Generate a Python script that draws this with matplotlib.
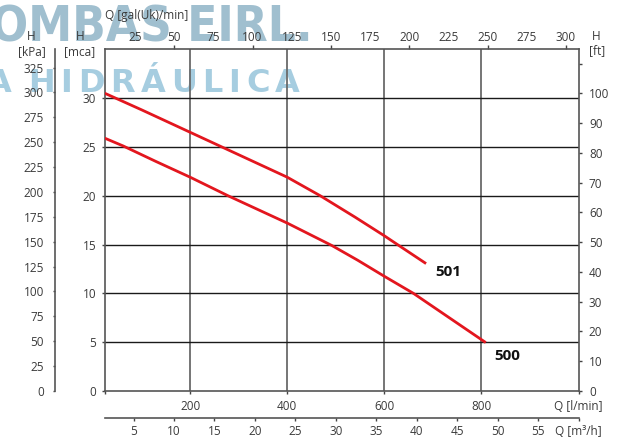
import matplotlib
matplotlib.use("Agg")
import matplotlib.pyplot as plt
from matplotlib import font_manager

# pump curves, Q in l/min, H in mca
q_501 = [24, 100, 200, 300, 400, 468, 540, 600, 618, 686]
h_501 = [30.5, 28.8, 26.5, 24.2, 21.9, 20.0, 17.8, 15.9, 15.3, 13.05]
q_500 = [24, 62, 130, 200, 278, 400, 440, 492, 545, 600, 660, 809]
h_500 = [25.9, 25.1, 23.5, 21.9, 20.0, 17.2, 16.2, 14.9, 13.4, 11.75, 10.0, 4.96]

lmin_ticks = [24, 200, 400, 600, 800, 1000]
lmin_labels = ["", "200", "400", "600", "800", "Q [l/min]"]
m3h_ticks = [5, 10, 15, 20, 25, 30, 35, 40, 45, 50, 55, 60]
m3h_labels = [str(v) for v in m3h_ticks[:-1]] + ["Q [m³/h]"]
gal_major = [50, 100, 150, 200, 250, 300]
gal_minor = [25, 75, 125, 175, 225, 275]
mca_ticks = [0, 5, 10, 15, 20, 25, 30]
kpa_ticks = list(range(0, 326, 25))
ft_ticks = list(range(0, 111, 10))
ft_labels = [str(v) for v in ft_ticks[:-1]] + [""]

W, H = 624, 438
names = {f.name for f in font_manager.fontManager.ttflist}
FONT = "Open Sans" if "Open Sans" in names else "DejaVu Sans"
TXT = "#3a3a3a"
RED = "#e3161e"
TICK = "#444444"

plt.rcParams["font.family"] = [FONT, "DejaVu Sans"]
plt.rcParams["font.size"] = 8.5


def _weight(f):
    w = f.weight
    return w if isinstance(w, int) else font_manager.weight_dict.get(w, 400)


def narrow_bold_font():
    for f in font_manager.fontManager.ttflist:
        narrow = (str(f.stretch) in ("condensed", "semi-condensed", "extra-condensed")
                  or "Narrow" in f.name or "Condensed" in f.name)
        if narrow and _weight(f) >= 700 and f.style == "normal":
            return font_manager.FontProperties(fname=f.fname)
    return font_manager.FontProperties(family="DejaVu Sans", weight="bold")


def px(x, y):
    return x / W, 1 - y / H


fig = plt.figure(figsize=(W / 100, H / 100), dpi=100)
fig.patch.set_facecolor("white")
l, t, r, b = 104.7, 49.3, 578.5, 391.0
ax = fig.add_axes([l / W, 1 - b / H, (r - l) / W, (b - t) / H])
ax.patch.set_alpha(0)

# watermark, sized to the span it covers in the reference
renderer = fig.canvas.get_renderer()
wm_font = narrow_bold_font()
wide_font = font_manager.FontProperties(family="DejaVu Sans", weight="bold")


def text_width(s, size, fp):
    probe = fig.text(0, 0, s, fontproperties=fp, fontsize=size)
    w = probe.get_window_extent(renderer).width
    probe.remove()
    return w


def fitted_size(visible, width_px, fp):
    size = 30.0
    for _ in range(3):
        size *= width_px / text_width(visible, size, fp)
    return size


s1 = fitted_size("OMBAS EIRL.", 322, wm_font)
fig.text(*px(313, 42), "BOMBAS EIRL.", fontproperties=wm_font, fontsize=s1,
         color="#a0bfcf", ha="right", va="baseline", zorder=-1)

# second line: spaced capitals from x=28 to x=300
word = "HIDRÁULICA"
s2 = 23.0
widths = [text_width(ch, s2, wide_font) for ch in word]
gap = (272 - sum(widths)) / (len(word) - 1)
x0 = 28.0
wm2 = dict(fontproperties=wide_font, fontsize=s2, color="#a6cde0",
           ha="left", va="baseline", zorder=-1)
fig.text(*px(x0 - 16 - text_width("A", s2, wide_font), 92), "A", **wm2)
for ch, w in zip(word, widths):
    fig.text(*px(x0, 92), ch, **wm2)
    x0 += w + gap

ax.set_xlim(24, 1000)
ax.set_ylim(0, 35)

for x in [200, 400, 600, 800]:
    ax.axvline(x, color="#6a6a6a", lw=1.3, zorder=1)
for y in mca_ticks[1:]:
    ax.axhline(y, color="#1a1a1a", lw=1.0, zorder=1.5)

ax.plot(q_501, h_501, color=RED, lw=2.0, zorder=3, solid_capstyle="butt")
ax.plot(q_500, h_500, color=RED, lw=2.0, zorder=3, solid_capstyle="butt")
ax.text(731, 12.2, "501", fontsize=11, fontweight="bold", color="#111111",
        ha="center", va="center")
ax.text(853, 3.6, "500", fontsize=11, fontweight="bold", color="#111111",
        ha="center", va="center")

for s in ax.spines.values():
    s.set_color("#555555")
    s.set_linewidth(1.2)

ax.set_xticks(lmin_ticks)
ax.set_xticklabels(lmin_labels)
ax.set_yticks(mca_ticks)
ax.tick_params(axis="x", direction="out", length=1.8, width=1, color=TICK,
               labelcolor=TXT, pad=4.7)
ax.tick_params(axis="y", direction="out", length=2.2, width=1, color=TICK,
               labelcolor=TXT, pad=3.8, right=False)

# kPa
kpa = ax.secondary_yaxis(-0.105, functions=(lambda m: m * 9.81, lambda k: k / 9.81))
kpa.set_yticks(kpa_ticks)
kpa.spines["left"].set_color("#555555")
kpa.spines["left"].set_linewidth(1.2)
kpa.tick_params(direction="out", length=1.8, width=1, color=TICK,
                labelcolor=TXT, pad=6.2)

# ft
ft = ax.secondary_yaxis("right", functions=(lambda m: m / 0.3048, lambda f: f * 0.3048))
ft.set_yticks(ft_ticks)
ft.set_yticklabels(ft_labels)
ft.spines["right"].set_visible(False)
ft.tick_params(direction="out", length=2.5, width=1, color=TICK,
               labelcolor=TXT, pad=5)

# gal(Uk)/min
gal = ax.secondary_xaxis("top", functions=(lambda q: (q - 5.8) / 3.227,
                                           lambda g: g * 3.227 + 5.8))
gal.set_xticks(gal_major)
gal.set_xticks(gal_minor, minor=True)
gal.set_xticklabels([str(v) for v in gal_major])
gal.set_xticklabels([str(v) for v in gal_minor], minor=True)
gal.spines["top"].set_visible(False)
gal.tick_params(which="major", direction="out", length=2.7, width=1,
                color=TICK, labelcolor=TXT, pad=0.9)
gal.tick_params(which="minor", direction="out", length=0, labelcolor=TXT,
                pad=3.6, labelsize=8.5)

# m3/h
m3h = ax.secondary_xaxis(-0.08, functions=(lambda q: q * 0.06, lambda m: m / 0.06))
m3h.set_xticks(m3h_ticks)
m3h.set_xticklabels(m3h_labels)
m3h.spines["bottom"].set_color("#555555")
m3h.spines["bottom"].set_linewidth(1.2)
m3h.tick_params(direction="out", length=2.2, width=1, color=TICK,
                labelcolor=TXT, pad=2.9)

# axis headers
hdr = dict(fontsize=8.5, color=TXT, ha="center", va="center")
fig.text(*px(31, 36), "H", **hdr)
fig.text(*px(32, 52), "[kPa]", **hdr)
fig.text(*px(80, 36), "H", **hdr)
fig.text(*px(80, 52), "[mca]", **hdr)
fig.text(*px(596, 36), "H", **hdr)
fig.text(*px(597, 51), "[ft]", **hdr)
fig.text(*px(105, 15), "Q [gal(Uk)/min]", fontsize=8.5, color=TXT,
         ha="left", va="center")

fig.savefig("out.png", dpi=100)
